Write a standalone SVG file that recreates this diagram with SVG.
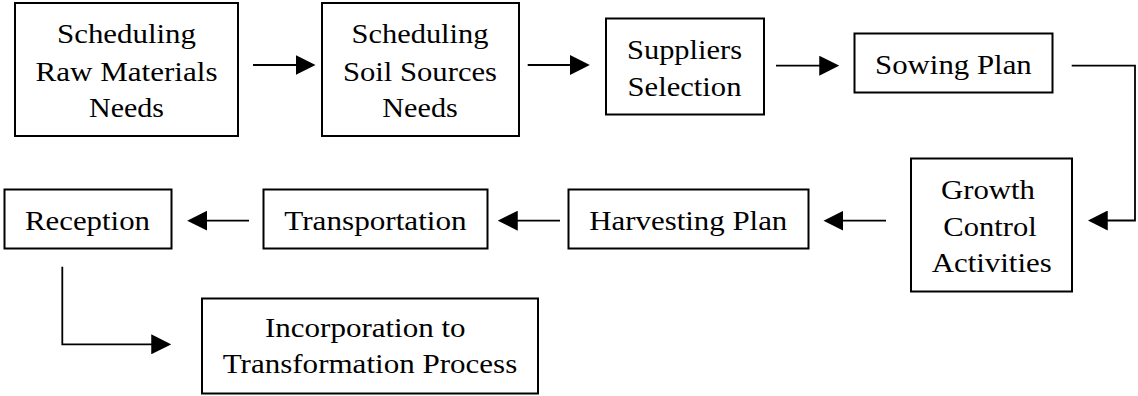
<svg xmlns="http://www.w3.org/2000/svg" width="1138" height="396" viewBox="0 0 1138 396">
<style>
.box{fill:#fff;stroke:#000;stroke-width:2}
.t{font-family:'Liberation Serif','Times New Roman',serif;font-size:28px;fill:#000;text-anchor:middle}
.c{fill:none;stroke:#000;stroke-width:1.8}
</style>
<defs>
<marker id="ah" markerUnits="userSpaceOnUse" markerWidth="20" markerHeight="20" refX="9" refY="9.5" orient="auto" viewBox="0 0 19 19">
<path d="M0,0 L19,9.5 L0,19 z" fill="#000"/>
</marker>
</defs>
<rect width="1138" height="396" fill="#fff"/>
<g id="connectors">
<path class="c" d="M253,65 H305" marker-end="url(#ah)"/>
<path class="c" d="M527.7,65 H579.3" marker-end="url(#ah)"/>
<path class="c" d="M776,65.7 H828.7" marker-end="url(#ah)"/>
<path class="c" d="M1071.7,65.7 H1135 V220.5 H1098.3" marker-end="url(#ah)"/>
<path class="c" d="M886,220.7 H834" marker-end="url(#ah)"/>
<path class="c" d="M560,220.7 H508.3" marker-end="url(#ah)"/>
<path class="c" d="M249,220.7 H197.7" marker-end="url(#ah)"/>
<path class="c" d="M62.3,266.7 V344.3 H160.7" marker-end="url(#ah)"/>
</g>
<g id="n1">
<rect class="box" x="15" y="3" width="223" height="133"/>
<text class="t" x="126.5" y="43" textLength="139" lengthAdjust="spacingAndGlyphs">Scheduling</text>
<text class="t" x="126.5" y="81" textLength="182" lengthAdjust="spacingAndGlyphs">Raw Materials</text>
<text class="t" x="126.5" y="117" textLength="75" lengthAdjust="spacingAndGlyphs">Needs</text>
</g>
<g id="n2">
<rect class="box" x="322" y="3" width="197" height="133"/>
<text class="t" x="420" y="43" textLength="137" lengthAdjust="spacingAndGlyphs">Scheduling</text>
<text class="t" x="420" y="81" textLength="154" lengthAdjust="spacingAndGlyphs">Soil Sources</text>
<text class="t" x="420" y="117" textLength="75.5" lengthAdjust="spacingAndGlyphs">Needs</text>
</g>
<g id="n3">
<rect class="box" x="606" y="18.5" width="158" height="96"/>
<text class="t" x="684.5" y="59.3" textLength="115" lengthAdjust="spacingAndGlyphs">Suppliers</text>
<text class="t" x="684.5" y="96" textLength="114" lengthAdjust="spacingAndGlyphs">Selection</text>
</g>
<g id="n4">
<rect class="box" x="854.5" y="33.5" width="198" height="59"/>
<text class="t" x="953.4" y="74" textLength="156.7" lengthAdjust="spacingAndGlyphs">Sowing Plan</text>
</g>
<g id="n5">
<rect class="box" x="911" y="158.5" width="161" height="133"/>
<text class="t" x="988" y="199.3" textLength="94" lengthAdjust="spacingAndGlyphs">Growth</text>
<text class="t" x="990" y="236" textLength="93.3" lengthAdjust="spacingAndGlyphs">Control</text>
<text class="t" x="991.7" y="271.7" textLength="120" lengthAdjust="spacingAndGlyphs">Activities</text>
</g>
<g id="n6">
<rect class="box" x="568.5" y="189.5" width="240" height="59"/>
<text class="t" x="688.3" y="230" textLength="198" lengthAdjust="spacingAndGlyphs">Harvesting Plan</text>
</g>
<g id="n7">
<rect class="box" x="263.5" y="189.5" width="224" height="59"/>
<text class="t" x="375.5" y="230" textLength="182.4" lengthAdjust="spacingAndGlyphs">Transportation</text>
</g>
<g id="n8">
<rect class="box" x="4.5" y="189.5" width="167" height="59"/>
<text class="t" x="87.5" y="230" textLength="125" lengthAdjust="spacingAndGlyphs">Reception</text>
</g>
<g id="n9">
<rect class="box" x="202" y="298.5" width="336" height="95"/>
<text class="t" x="365.3" y="336.7" textLength="200.7" lengthAdjust="spacingAndGlyphs">Incorporation to</text>
<text class="t" x="370" y="373.3" textLength="294.6" lengthAdjust="spacingAndGlyphs">Transformation Process</text>
</g>
</svg>
